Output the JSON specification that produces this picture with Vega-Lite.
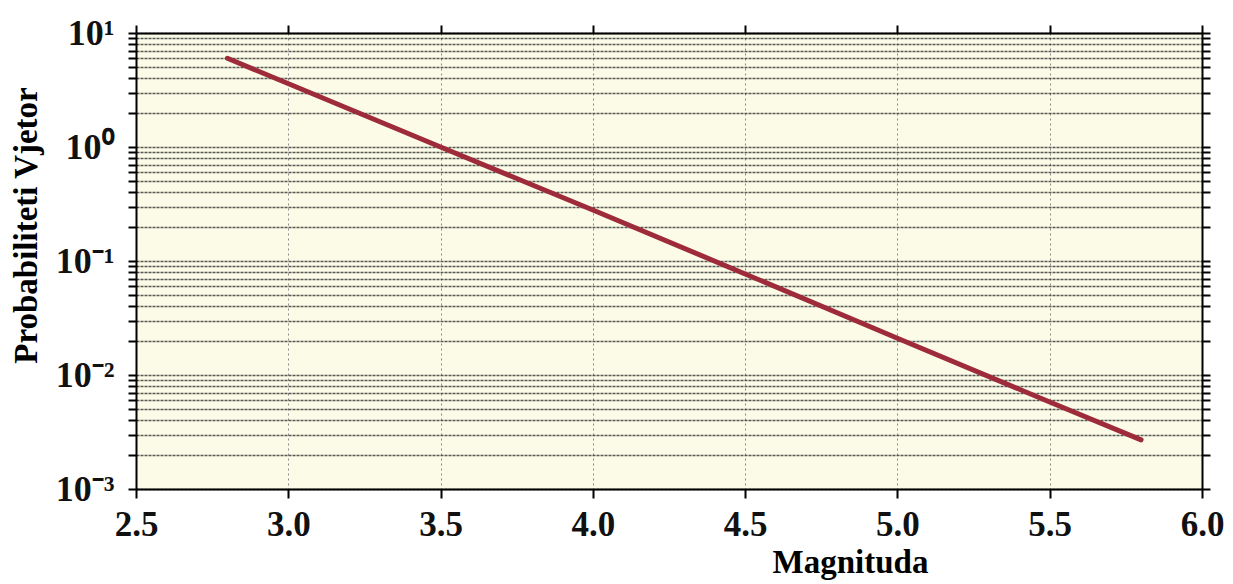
{
  "$schema": "https://vega.github.io/schema/vega-lite/v6.json",
  "width": 1066,
  "height": 456,
  "autosize": {"type": "none"},
  "padding": {"left": 136, "top": 33, "right": 31, "bottom": 95},
  "background": "#ffffff",
  "config": {
    "view": {"fill": "#fbfbe8", "stroke": null},
    "font": "Liberation Serif"
  },
  "data": {
    "values": [
      {"m": 2.8, "p": 6.0},
      {"m": 3.5, "p": 1.0},
      {"m": 4.0, "p": 0.28},
      {"m": 4.5, "p": 0.077},
      {"m": 5.0, "p": 0.021},
      {"m": 5.5, "p": 0.0058},
      {"m": 5.8, "p": 0.0027}
    ]
  },
  "layer": [
    {
      "mark": {"type": "line", "color": "#9e2b3a", "strokeWidth": 5, "strokeCap": "round"},
      "encoding": {
        "x": {
          "field": "m", "type": "quantitative",
          "scale": {"domain": [2.5, 6.0], "nice": false, "zero": false},
          "axis": {
            "orient": "bottom",
            "values": [2.5, 3.0, 3.5, 4.0, 4.5, 5.0, 5.5, 6.0],
            "format": ".1f",
            "title": "Magnituda",
            "titleFont": "Liberation Serif", "titleFontWeight": "bold", "titleFontSize": 33,
            "titleColor": "#000000",
            "titleX": 714, "titleY": 57, "titleBaseline": "top", "titleAnchor": null,
            "labelFont": "Liberation Serif", "labelFontWeight": "bold", "labelFontSize": 35,
            "labelColor": "#111111", "labelPadding": 9, "labelBaseline": "top",
            "labelFlush": false, "labelOverlap": false,
            "domainColor": "#000000", "domainWidth": 2,
            "tickColor": "#000000", "tickWidth": 2, "tickSize": 9, "tickOffset": 0,
            "grid": true, "gridColor": "#8a8a8a", "gridDash": [2, 3], "gridWidth": 1
          }
        },
        "y": {
          "field": "p", "type": "quantitative",
          "scale": {"type": "log", "domain": [0.001, 10], "nice": false},
          "axis": {
            "orient": "left",
            "values": [0.001,0.002,0.003,0.004,0.005,0.006,0.007,0.008,0.009,
                       0.01,0.02,0.03,0.04,0.05,0.06,0.07,0.08,0.09,
                       0.1,0.2,0.3,0.4,0.5,0.6,0.7,0.8,0.9,
                       1,2,3,4,5,6,7,8,9,10],
            "labelExpr": "abs(log(datum.value)/LN10 - round(log(datum.value)/LN10)) < 0.001 ? ('10' + (round(log(datum.value)/LN10) == 1 ? '¹' : round(log(datum.value)/LN10) == 0 ? '⁰' : round(log(datum.value)/LN10) == -1 ? '⁻¹' : round(log(datum.value)/LN10) == -2 ? '⁻²' : '⁻³')) : ''",
            "title": "Probabiliteti Vjetor",
            "titleFont": "Liberation Serif", "titleFontWeight": "bold", "titleFontSize": 33,
            "titleColor": "#000000",
            "titleAngle": -90, "titleX": -100, "titleY": 192, "titleBaseline": "alphabetic",
            "titleAlign": "center",
            "labelFont": "Liberation Serif", "labelFontWeight": "bold", "labelFontSize": 36,
            "labelColor": "#111111", "labelPadding": 14, "labelBaseline": "middle",
            "labelFlush": false, "labelOverlap": false,
            "domainColor": "#000000", "domainWidth": 2,
            "tickColor": "#000000", "tickWidth": 2, "tickSize": 8,
            "grid": true, "gridColor": "#3a3a3a", "gridDash": [3, 1], "gridWidth": 1.5, "gridOpacity": 0.85
          }
        }
      }
    },
    {
      "mark": {"type": "line", "opacity": 0},
      "encoding": {
        "x": {
          "field": "m", "type": "quantitative",
          "scale": {"domain": [2.5, 6.0], "nice": false, "zero": false},
          "axis": {
            "orient": "top",
            "values": [2.5, 3.0, 3.5, 4.0, 4.5, 5.0, 5.5, 6.0],
            "labels": false, "title": null, "grid": false,
            "domainColor": "#000000", "domainWidth": 2,
            "tickColor": "#000000", "tickWidth": 2, "tickSize": 8
          }
        },
        "y": {
          "field": "p", "type": "quantitative",
          "scale": {"type": "log", "domain": [0.001, 10], "nice": false},
          "axis": {
            "orient": "right",
            "values": [0.001,0.002,0.003,0.004,0.005,0.006,0.007,0.008,0.009,
                       0.01,0.02,0.03,0.04,0.05,0.06,0.07,0.08,0.09,
                       0.1,0.2,0.3,0.4,0.5,0.6,0.7,0.8,0.9,
                       1,2,3,4,5,6,7,8,9,10],
            "labels": false, "title": null, "grid": false,
            "domainColor": "#000000", "domainWidth": 2,
            "tickColor": "#000000", "tickWidth": 2, "tickSize": 8
          }
        }
      }
    }
  ],
  "resolve": {"axis": {"x": "independent", "y": "independent"}}
}
